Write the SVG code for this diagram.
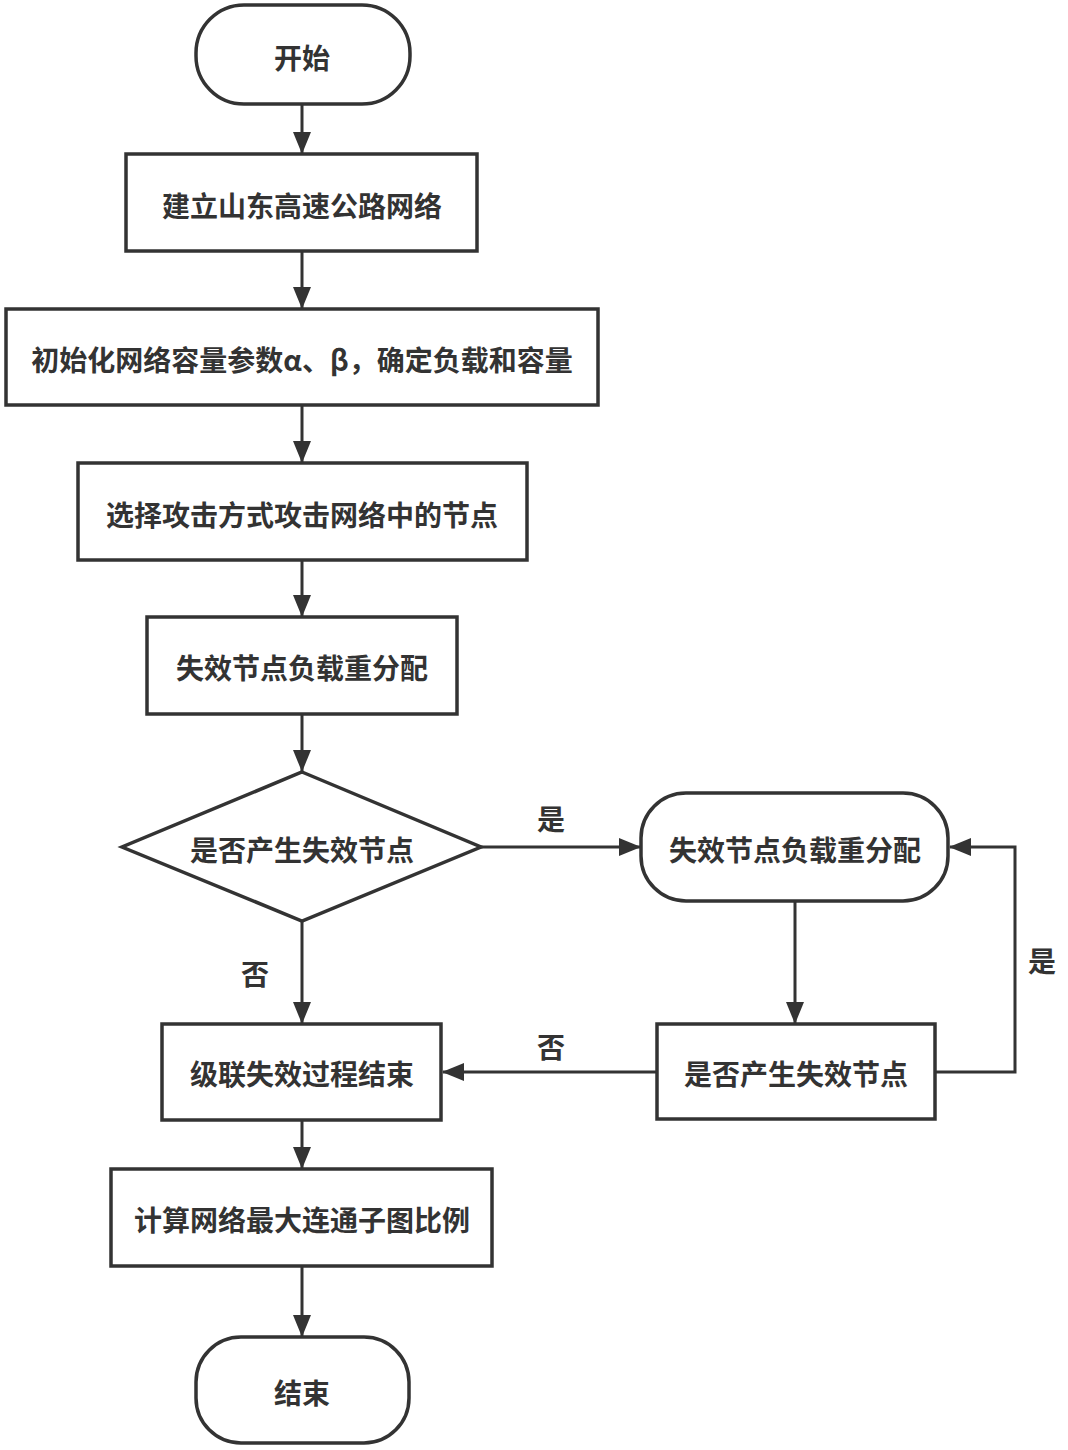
<svg xmlns="http://www.w3.org/2000/svg" width="1068" height="1450" viewBox="0 0 1068 1450">
<style>
.n{fill:#fff;stroke:#333;stroke-width:3.5}
.t{font-family:"Noto Sans CJK SC","Liberation Sans",sans-serif;font-weight:bold;font-size:28px;fill:#333;text-anchor:middle;dominant-baseline:central}
.c{fill:none;stroke:#333;stroke-width:3;marker-end:url(#ah)}
</style>
<defs>
<marker id="ah" markerUnits="userSpaceOnUse" markerWidth="22" markerHeight="18" viewBox="0 0 22 18" refX="21" refY="9" orient="auto">
<path d="M0,0 L22,9 L0,18 Z" fill="#333"/>
</marker>
</defs>
<rect width="1068" height="1450" fill="#fff"/>
<g id="connectors">
<line class="c" x1="302" y1="104" x2="302" y2="153"/>
<line class="c" x1="302" y1="251" x2="302" y2="308"/>
<line class="c" x1="302" y1="405" x2="302" y2="462"/>
<line class="c" x1="302" y1="560" x2="302" y2="616"/>
<line class="c" x1="302" y1="714" x2="302" y2="771"/>
<line class="c" x1="481" y1="847" x2="640" y2="847"/>
<line class="c" x1="302" y1="921" x2="302" y2="1023"/>
<line class="c" x1="795" y1="901" x2="795" y2="1023"/>
<line class="c" x1="657" y1="1072" x2="443" y2="1072"/>
<polyline class="c" points="935,1072 1015,1072 1015,847 950,847"/>
<line class="c" x1="302" y1="1120" x2="302" y2="1168"/>
<line class="c" x1="302" y1="1266" x2="302" y2="1336"/>
<text class="t" x="551" y="818">是</text>
<text class="t" x="255" y="973">否</text>
<text class="t" x="1042" y="960">是</text>
<text class="t" x="551" y="1046">否</text>
</g>
<g id="start">
<rect class="n" x="196" y="5" width="214" height="99" rx="48" ry="48"/>
<text class="t" x="302" y="57">开始</text>
</g>
<g id="build">
<rect class="n" x="126" y="154" width="351" height="97"/>
<text class="t" x="302" y="205">建立山东高速公路网络</text>
</g>
<g id="init">
<rect class="n" x="6" y="309" width="592" height="96"/>
<text class="t" x="302" y="359">初始化网络容量参数α、β，确定负载和容量</text>
</g>
<g id="attack">
<rect class="n" x="78" y="463" width="449" height="97"/>
<text class="t" x="302" y="514">选择攻击方式攻击网络中的节点</text>
</g>
<g id="redist1">
<rect class="n" x="147" y="617" width="310" height="97"/>
<text class="t" x="302" y="667">失效节点负载重分配</text>
</g>
<g id="decision1">
<polygon class="n" points="302,772 481,847 302,921 122,847"/>
<text class="t" x="302" y="849">是否产生失效节点</text>
</g>
<g id="redist2">
<rect class="n" x="641" y="793" width="307" height="108" rx="45" ry="45"/>
<text class="t" x="795" y="849">失效节点负载重分配</text>
</g>
<g id="decision2">
<rect class="n" x="657" y="1024" width="278" height="95"/>
<text class="t" x="796" y="1073">是否产生失效节点</text>
</g>
<g id="cascadeEnd">
<rect class="n" x="162" y="1024" width="279" height="96"/>
<text class="t" x="302" y="1073">级联失效过程结束</text>
</g>
<g id="compute">
<rect class="n" x="111" y="1169" width="381" height="97"/>
<text class="t" x="302" y="1219">计算网络最大连通子图比例</text>
</g>
<g id="end">
<rect class="n" x="196" y="1337" width="213" height="106" rx="45" ry="45"/>
<text class="t" x="302" y="1392">结束</text>
</g>
</svg>
